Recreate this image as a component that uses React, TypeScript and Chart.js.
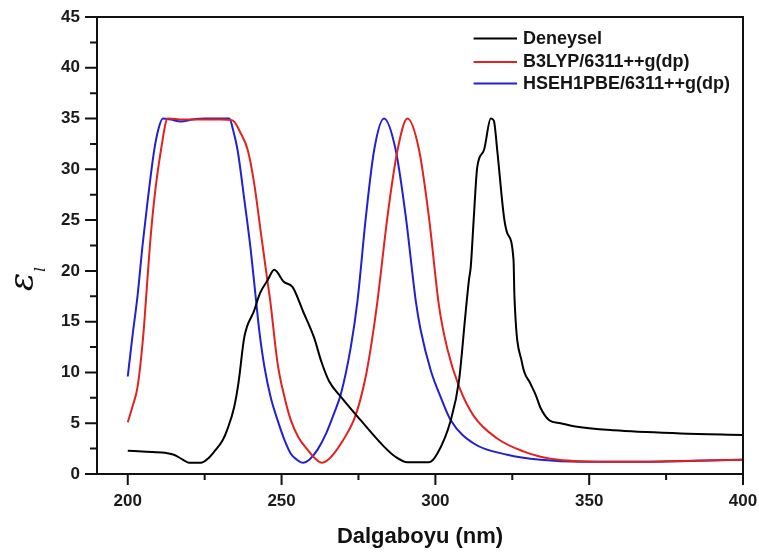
import React, { useEffect, useRef } from 'react';
import { Chart, registerables } from 'chart.js';

Chart.register(...registerables);

const SERIES_NAMES = ['Deneysel', 'B3LYP/6311++g(dp)', 'HSEH1PBE/6311++g(dp)'];
const SERIES_COLORS = ['#000000', '#e3221f', '#2020d4'];

const EXP_X = [200, 206, 211.9, 215, 218, 220, 223.8, 226, 228.1, 230.8, 232.5, 234.6, 236, 237.9, 241.1, 243, 245.5, 247.6, 250.8, 253.6, 257, 260.6, 263, 265.5, 269.3, 275.7, 283.3, 287, 290.9, 297.9, 300.6, 305, 307.7, 309.8, 310.9, 311.5, 312.5, 313.6, 315.8, 318, 319, 320.1, 322.3, 323.4, 325.4, 325.7, 328.2, 330.9, 332.6, 334.2, 337, 340.7, 345, 358, 379.6, 400];
const EXP_Y = [2.3, 2.2, 2.1, 1.9, 1.4, 1.1, 1.1, 1.5, 2.2, 3.3, 4.5, 6.6, 9, 13.5, 16.1, 17.8, 19.1, 20.1, 18.9, 18.4, 16, 13.4, 11, 9.1, 7.6, 5.3, 2.7, 1.7, 1.15, 1.15, 2.0, 5.3, 9.25, 15.8, 19.1, 20.4, 25.3, 30.2, 31.9, 35.0, 34.8, 31.9, 25.3, 23.7, 21.1, 17.5, 10.9, 8.9, 7.8, 6.5, 5.3, 5.0, 4.7, 4.3, 4.0, 3.85];

const B3LYP_X = [200, 201.5, 203.2, 205, 205.9, 207.2, 208.6, 210.8, 213, 218, 225, 230, 234.1, 236.8, 239, 241.1, 243.3, 245.5, 246.3, 248.7, 251, 253, 255.5, 258.4, 261, 263.1, 265.5, 267.5, 269.3, 271.5, 273.6, 275.5, 277.5, 279.4, 281.2, 282.8, 284.4, 287.7, 290.9, 294.7, 297.9, 301.2, 303.9, 307.7, 312.5, 320.1, 328.8, 334.2, 340, 347.2, 360, 375, 400];
const B3LYP_Y = [5.1, 6.6, 8.6, 13.5, 17.1, 22.5, 27, 31.9, 35.0, 34.9, 34.9, 34.9, 34.8, 33.5, 31.9, 28.6, 23.7, 18.8, 17.1, 10.9, 7.5, 5.3, 3.6, 2.4, 1.5, 1.1, 1.5, 2.2, 3.0, 4.1, 5.4, 7.2, 9.8, 13.2, 17.1, 21.2, 25.3, 31.9, 35, 31.9, 25.3, 16.5, 12.3, 8.6, 5.7, 3.5, 2.2, 1.7, 1.4, 1.25, 1.2, 1.25, 1.4];

const HSE_X = [200, 201.5, 203.2, 204.8, 206.5, 208.6, 210, 211.4, 214, 217.3, 221, 225, 230, 233, 234.3, 235.7, 237.9, 240, 241.7, 242.8, 244.4, 246.5, 248.7, 251, 253, 255, 257, 259, 261.7, 264.5, 267.1, 269.3, 272.5, 274.7, 277.4, 280.1, 283.3, 287.1, 290.4, 293.6, 295.2, 298.5, 301.7, 305, 312.5, 323.4, 334.2, 347.2, 365, 385, 400];
const HSE_Y = [9.6, 13.5, 17.6, 22.5, 27, 31.9, 34, 35.0, 34.9, 34.7, 34.9, 35.0, 35.0, 35.0, 33.8, 31.9, 27, 22, 17.1, 14, 10.6, 7.5, 5.3, 3.3, 2.0, 1.4, 1.1, 1.4, 2.4, 4.0, 6.0, 7.9, 12.5, 17.1, 25.3, 31.9, 35, 31.9, 25.3, 17.1, 14.2, 10.2, 7.6, 5.3, 3.0, 1.9, 1.4, 1.2, 1.2, 1.3, 1.4];

const X_TICKS = [200, 250, 300, 350, 400];
const X_MINOR = [225, 275, 325, 375];
const Y_TICKS = [0, 5, 10, 15, 20, 25, 30, 35, 40, 45];
const Y_MINOR = [2.5, 7.5, 12.5, 17.5, 22.5, 27.5, 32.5, 37.5, 42.5];
const X_TITLE = 'Dalgaboyu (nm)';
const Y_TITLE = 'ε';
const Y_TITLE_SUB = 'l';

const FONT = '"Liberation Sans", Arial, sans-serif';

const toPoints = (xs: number[], ys: number[]) => xs.map((x, i) => ({ x, y: ys[i] }));

const decor = {
  id: 'decor',
  afterDraw(chart: any) {
    const { ctx, chartArea, scales } = chart;
    const { left, right, top, bottom } = chartArea;
    const x = scales.x;
    const y = scales.y;
    ctx.save();
    ctx.strokeStyle = '#111';
    ctx.lineWidth = 2;
    ctx.strokeRect(left, top, right - left, bottom - top);
    ctx.beginPath();
    Y_TICKS.forEach((v) => { const p = y.getPixelForValue(v); ctx.moveTo(left, p); ctx.lineTo(left - 12, p); });
    Y_MINOR.forEach((v) => { const p = y.getPixelForValue(v); ctx.moveTo(left, p); ctx.lineTo(left - 7, p); });
    X_TICKS.forEach((v) => { const p = x.getPixelForValue(v); ctx.moveTo(p, bottom); ctx.lineTo(p, bottom + 11); });
    X_MINOR.forEach((v) => { const p = x.getPixelForValue(v); ctx.moveTo(p, bottom); ctx.lineTo(p, bottom + 6); });
    ctx.stroke();

    // legend
    const rows = [21.6, 45, 66.6];
    ctx.font = `bold 18px ${FONT}`;
    ctx.textBaseline = 'middle';
    ctx.textAlign = 'left';
    SERIES_NAMES.forEach((name, i) => {
      const yy = top + rows[i];
      ctx.strokeStyle = SERIES_COLORS[i];
      ctx.lineWidth = 2;
      ctx.beginPath();
      ctx.moveTo(right - 269.4, yy);
      ctx.lineTo(right - 226, yy);
      ctx.stroke();
      ctx.fillStyle = '#151515';
      ctx.fillText(name, right - 220, yy);
    });

    // y title
    ctx.save();
    ctx.translate(33, 291);
    ctx.rotate(-Math.PI / 2);
    ctx.fillStyle = '#111';
    ctx.textBaseline = 'alphabetic';
    ctx.font = `italic 34px "DejaVu Serif", serif`;
    ctx.fillText(Y_TITLE, 0, 0);
    const w = ctx.measureText(Y_TITLE).width;
    ctx.font = `italic 14px "DejaVu Serif", serif`;
    ctx.fillText(Y_TITLE_SUB, w + 1, 12);
    ctx.restore();

    ctx.restore();
  },
};

export default function App() {
  const ref = useRef<HTMLCanvasElement>(null);
  useEffect(() => {
    if (!ref.current) return;
    const mk = (i: number, xs: number[], ys: number[]) => ({
      label: SERIES_NAMES[i],
      data: toPoints(xs, ys),
      borderColor: SERIES_COLORS[i],
      backgroundColor: SERIES_COLORS[i],
      borderWidth: 2,
      pointRadius: 0,
      cubicInterpolationMode: 'monotone' as const,
      fill: false,
    });
    const chart = new Chart(ref.current, {
      type: 'line',
      data: {
        datasets: [mk(0, EXP_X, EXP_Y), mk(1, B3LYP_X, B3LYP_Y), mk(2, HSE_X, HSE_Y)],
      },
      options: {
        responsive: false,
        animation: false,
        devicePixelRatio: 1,
        layout: { padding: { top: 17, right: 16, left: 0, bottom: 0 } },
        plugins: { legend: { display: false }, tooltip: { enabled: false } },
        scales: {
          x: {
            type: 'linear',
            min: 190,
            max: 400,
            afterBuildTicks: (s: any) => { s.ticks = X_TICKS.map((v) => ({ value: v })); },
            afterFit: (s: any) => { s.height = 80; s.paddingLeft = 0; s.paddingRight = 0; },
            grid: { display: false, drawTicks: false },
            border: { display: false },
            ticks: { color: '#1a1a1a', padding: 17, maxRotation: 0, autoSkip: false, font: { family: FONT, size: 17, weight: 'bold' } },
            title: { display: true, text: X_TITLE, color: '#111', font: { family: FONT, size: 22, weight: 'bold' }, padding: { top: 0, bottom: 4 } },
          },
          y: {
            type: 'linear',
            min: 0,
            max: 45,
            afterBuildTicks: (s: any) => { s.ticks = Y_TICKS.map((v) => ({ value: v })); },
            afterFit: (s: any) => { s.width = 97; s.paddingTop = 0; s.paddingBottom = 0; },
            grid: { display: false, drawTicks: false },
            border: { display: false },
            ticks: { color: '#1a1a1a', padding: 17, font: { family: FONT, size: 17, weight: 'bold' } },
          },
        },
      },
      plugins: [decor],
    } as any);
    return () => chart.destroy();
  }, []);
  return (
    <div style={{ position: 'fixed', left: 0, top: 0, width: 759, height: 554, background: '#fff' }}>
      <canvas ref={ref} width={759} height={554} style={{ width: 759, height: 554, display: 'block' }} />
    </div>
  );
}
